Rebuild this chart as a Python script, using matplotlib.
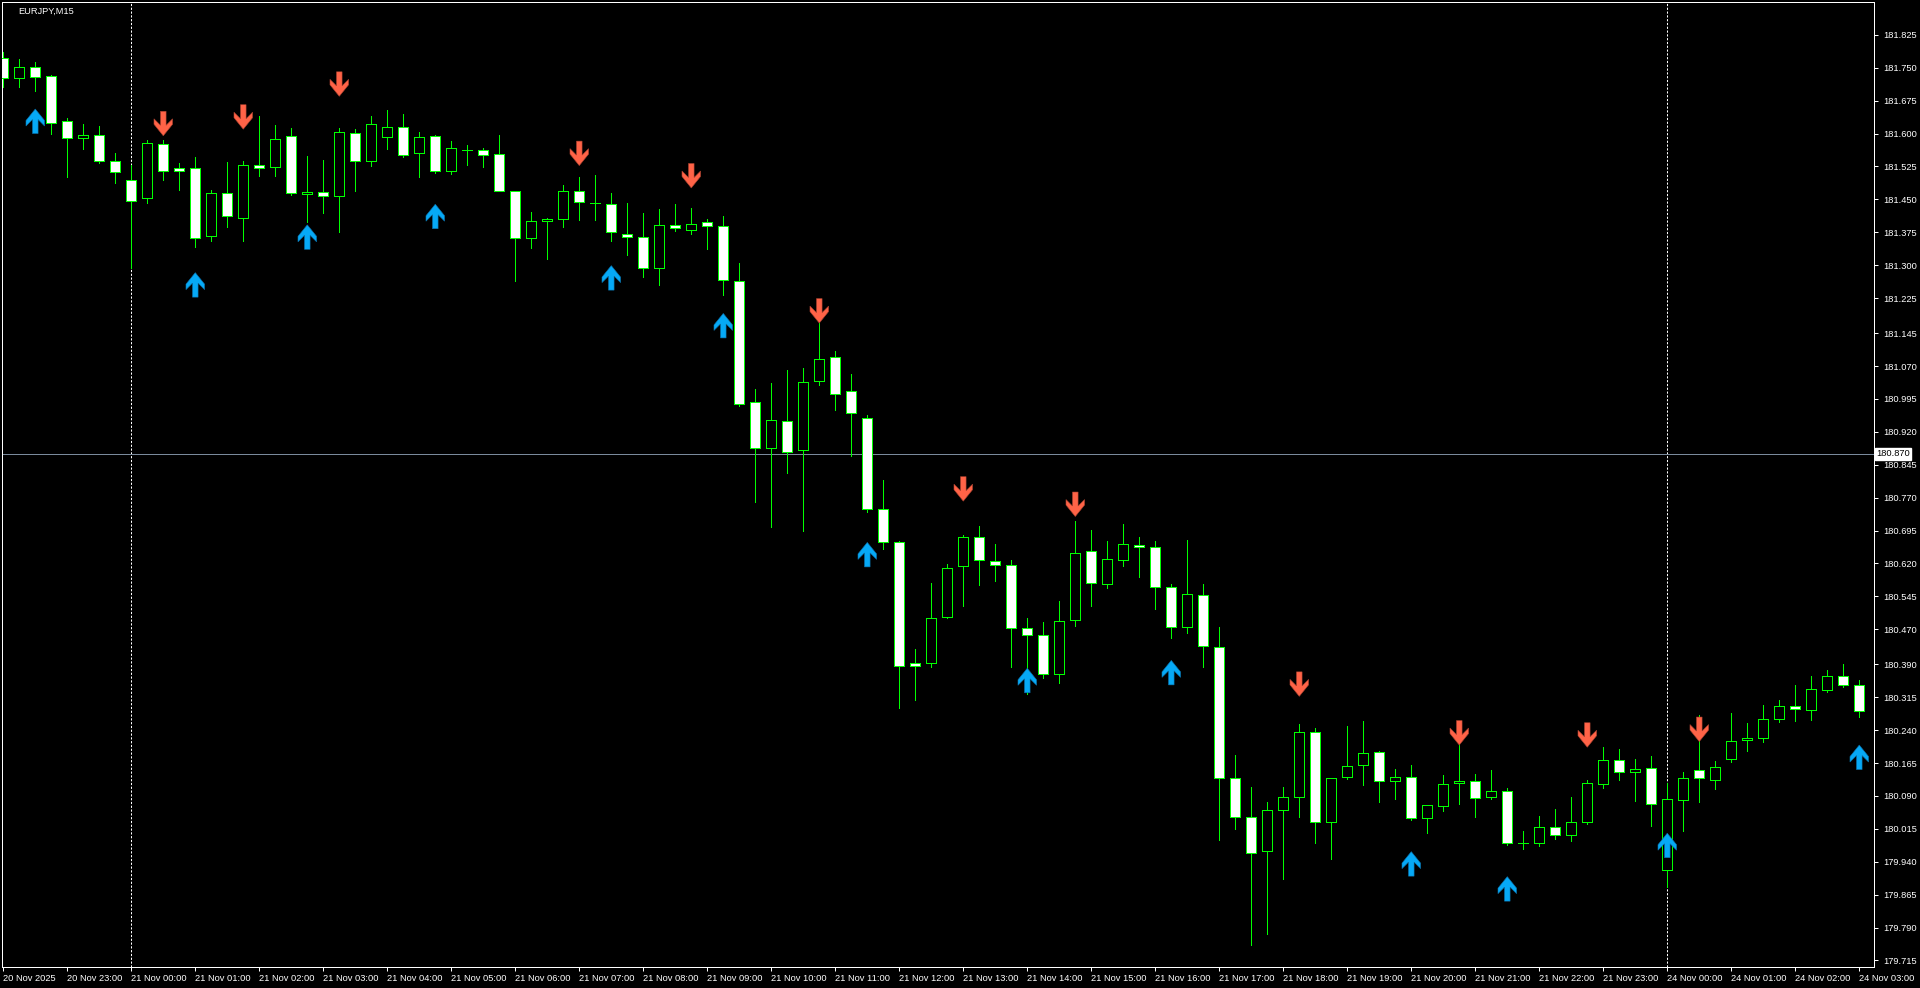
import matplotlib
matplotlib.use("Agg")
import matplotlib.pyplot as plt
from matplotlib.patches import Polygon
import numpy as np

# ---------------- data (EURJPY M15) ----------------
bar_index = list(range(-8, 109))  # bar slots; 21 Nov 00:00 = 0

opens = [181.772, 181.726, 181.752, 181.731, 181.628, 181.590, 181.597, 181.537,
         181.494, 181.454, 181.576, 181.521, 181.521, 181.366, 181.464, 181.408,
         181.528, 181.523, 181.594, 181.462, 181.467, 181.457, 181.601, 181.537,
         181.592, 181.615, 181.556, 181.594, 181.514, 181.562, 181.562, 181.553,
         181.469, 181.361, 181.400, 181.405, 181.469, 181.441, 181.439, 181.371,
         181.364, 181.293, 181.391, 181.380, 181.398, 181.389, 181.265, 180.988,
         180.883, 180.944, 180.878, 181.036, 181.090, 181.013, 180.951, 180.744,
         180.670, 180.393, 180.393, 180.498, 180.614, 180.680, 180.625, 180.616,
         180.473, 180.457, 180.368, 180.491, 180.648, 180.573, 180.628, 180.662,
         180.657, 180.566, 180.475, 180.548, 180.429, 180.131, 180.042, 179.964,
         180.058, 180.087, 180.235, 180.030, 180.133, 180.160, 180.190, 180.124,
         180.133, 180.039, 180.067, 180.119, 180.124, 180.087, 180.101, 179.982,
         179.982, 180.019, 180.001, 180.030, 180.117, 180.172, 180.144, 180.153,
         179.921, 180.080, 180.149, 180.126, 180.174, 180.217, 180.222, 180.265,
         180.295, 180.286, 180.331, 180.363, 180.343]

highs = [181.787, 181.770, 181.764, 181.733, 181.635, 181.622, 181.617, 181.556,
         181.529, 181.586, 181.586, 181.533, 181.546, 181.472, 181.535, 181.537,
         181.639, 181.620, 181.613, 181.549, 181.540, 181.613, 181.611, 181.640,
         181.654, 181.645, 181.604, 181.597, 181.583, 181.574, 181.568, 181.597,
         181.470, 181.422, 181.407, 181.483, 181.501, 181.505, 181.464, 181.441,
         181.419, 181.428, 181.439, 181.430, 181.405, 181.412, 181.305, 181.017,
         181.031, 181.061, 181.065, 181.168, 181.105, 181.052, 180.959, 180.811,
         180.671, 180.425, 180.575, 180.619, 180.685, 180.706, 180.664, 180.628,
         180.496, 180.487, 180.535, 180.717, 180.697, 180.672, 180.710, 180.681,
         180.672, 180.573, 180.674, 180.573, 180.475, 180.183, 180.111, 180.076,
         180.111, 180.254, 180.245, 180.132, 180.250, 180.261, 180.192, 180.151,
         180.160, 180.070, 180.137, 180.210, 180.140, 180.149, 180.108, 180.010,
         180.044, 180.060, 180.087, 180.126, 180.201, 180.197, 180.174, 180.181,
         180.120, 180.144, 180.274, 180.169, 180.279, 180.256, 180.297, 180.308,
         180.343, 180.363, 180.377, 180.390, 180.354]

lows = [181.706, 181.707, 181.696, 181.598, 181.500, 181.564, 181.533, 181.488,
        181.294, 181.442, 181.495, 181.472, 181.341, 181.355, 181.386, 181.356,
        181.504, 181.504, 181.459, 181.399, 181.419, 181.375, 181.470, 181.525,
        181.566, 181.546, 181.500, 181.510, 181.507, 181.529, 181.523, 181.468,
        181.263, 181.340, 181.315, 181.388, 181.404, 181.402, 181.355, 181.323,
        181.273, 181.255, 181.378, 181.371, 181.337, 181.231, 180.980, 180.759,
        180.704, 180.827, 180.695, 181.026, 180.969, 180.864, 180.738, 180.653,
        180.291, 180.309, 180.384, 180.496, 180.522, 180.570, 180.581, 180.383,
        180.322, 180.358, 180.348, 180.478, 180.522, 180.563, 180.615, 180.588,
        180.517, 180.449, 180.462, 180.383, 179.990, 180.015, 179.751, 179.776,
        179.900, 180.043, 179.982, 179.946, 180.128, 180.116, 180.077, 180.082,
        180.035, 180.006, 180.055, 180.071, 180.043, 180.083, 179.978, 179.969,
        179.975, 179.991, 179.987, 180.026, 180.108, 180.126, 180.078, 180.021,
        179.882, 180.010, 180.077, 180.105, 180.168, 180.193, 180.214, 180.258,
        180.260, 180.262, 180.327, 180.339, 180.270]

closes = [181.727, 181.752, 181.730, 181.624, 181.590, 181.597, 181.537, 181.512,
          181.447, 181.578, 181.514, 181.514, 181.361, 181.464, 181.411, 181.528,
          181.521, 181.587, 181.464, 181.467, 181.457, 181.603, 181.537, 181.622,
          181.615, 181.551, 181.592, 181.514, 181.567, 181.562, 181.551, 181.469,
          181.361, 181.400, 181.405, 181.469, 181.444, 181.441, 181.375, 181.364,
          181.293, 181.391, 181.385, 181.394, 181.389, 181.266, 180.983, 180.883,
          180.947, 180.874, 181.033, 181.086, 181.006, 180.963, 180.744, 180.669,
          180.386, 180.386, 180.495, 180.609, 180.680, 180.628, 180.616, 180.473,
          180.457, 180.368, 180.488, 180.644, 180.575, 180.630, 180.664, 180.657,
          180.566, 180.475, 180.550, 180.431, 180.132, 180.043, 179.960, 180.058,
          180.087, 180.235, 180.030, 180.131, 180.158, 180.188, 180.124, 180.133,
          180.039, 180.069, 180.117, 180.124, 180.085, 180.101, 179.982, 179.982,
          180.019, 180.001, 180.030, 180.119, 180.172, 180.144, 180.151, 180.071,
          180.083, 180.131, 180.131, 180.156, 180.215, 180.222, 180.265, 180.295,
          180.288, 180.333, 180.363, 180.343, 180.283]

# indicator arrows: bar slot and price of the arrow tip
buy_bars = [-6, 4, 11, 19, 30, 37, 46, 56, 65, 80, 86, 96, 108]
buy_tips = [181.656, 181.283, 181.392, 181.439, 181.299, 181.190, 180.668,
            180.381, 180.399, 179.963, 179.906, 180.005, 180.206]
sell_bars = [2, 7, 13, 28, 35, 43, 52, 59, 73, 83, 91, 98]
sell_tips = [181.595, 181.610, 181.685, 181.527, 181.476, 181.168, 180.762,
             180.727, 180.317, 180.206, 180.201, 180.214]

price_levels = [181.825, 181.750, 181.675, 181.600, 181.525, 181.450, 181.375,
                181.300, 181.225, 181.145, 181.070, 180.995, 180.920, 180.845,
                180.770, 180.695, 180.620, 180.545, 180.470, 180.390, 180.315,
                180.240, 180.165, 180.090, 180.015, 179.940, 179.865, 179.790,
                179.715]

time_ticks = list(range(-8, 109, 4))
time_labels = (["20 Nov 2025", "20 Nov 23:00"]
               + ["21 Nov %02d:00" % h for h in range(24)]
               + ["24 Nov %02d:00" % h for h in range(4)])

day_separators = [0, 96]
hline_price = 180.870
title = "EURJPY,M15"

# ---------------- figure ----------------
W, H = 1920, 988
fig = plt.figure(figsize=(W / 100, H / 100), dpi=100, facecolor="black")
L, R, T, B = 2, 1874, 2, 967
ax = fig.add_axes([L / W, (H - B) / H, (R - L) / W, (B - T) / H])
ax.set_facecolor("black")
ax.set_xlim(-8.08, 108.92)
ax.set_ylim(179.700, 181.900)

sx = (108.92 + 8.08) / (R - L)      # data units per pixel (x)
sy = (181.900 - 179.700) / (B - T)  # data units per pixel (y)

GREEN = "#00FF00"
px = 0.72  # one pixel in points

x = np.array(bar_index, dtype=float)
o = np.array(opens); h = np.array(highs); l = np.array(lows); c = np.array(closes)

ax.vlines(x, l, h, color=GREEN, lw=1.0 * px, zorder=3, antialiased=False)

bw = 10 * sx
for xi, oi, ci in zip(x, o, c):
    if abs(ci - oi) < 1e-9:
        ax.hlines(oi, xi - bw / 2, xi + bw / 2, color=GREEN, lw=1.0 * px, zorder=4,
                  antialiased=False)
        continue
    fc = "black" if ci > oi else "white"
    ax.add_patch(plt.Rectangle((xi - bw / 2, min(oi, ci)), bw, abs(ci - oi),
                               facecolor=fc, edgecolor=GREEN, lw=1.0 * px,
                               zorder=4, antialiased=False))

# arrows (pixel shape relative to tip; pointing up)
shape = [(0, 0), (9.3, 11.5), (9.3, 17), (2.8, 10.5), (2.8, 24.5),
         (-2.8, 24.5), (-2.8, 10.5), (-9.3, 17), (-9.3, 11.5)]
for bi, tp in zip(buy_bars, buy_tips):
    pts = [(bi + dx * sx, tp - dy * sy) for dx, dy in shape]
    ax.add_patch(Polygon(pts, closed=True, facecolor="#06A9F6",
                         edgecolor="#0A6FA8", lw=0.4, zorder=5))
for bi, tp in zip(sell_bars, sell_tips):
    pts = [(bi + dx * sx, tp + dy * sy) for dx, dy in shape]
    ax.add_patch(Polygon(pts, closed=True, facecolor="#FF6347",
                         edgecolor="#A8402E", lw=0.4, zorder=5))

# day separators
for d in day_separators:
    ax.axvline(d, color="white", lw=1.0 * px, ls=(0, (2.2, 1.6)), zorder=2)

# horizontal price line
ax.axhline(hline_price, color="#7A8A9C", lw=1.0 * px, zorder=2)

# spines
for s in ax.spines.values():
    s.set_color("white")
    s.set_linewidth(1.0 * px)

FONT = "Liberation Sans"
FS = 6.7
ax.yaxis.tick_right()
ax.set_yticks(price_levels)
ax.set_yticklabels(["%.3f" % v for v in price_levels])
ax.tick_params(axis="y", colors="white", direction="out", length=3,
               width=1.0 * px, pad=4, labelsize=FS)
ax.set_xticks(time_ticks)
ax.set_xticklabels(time_labels)
ax.tick_params(axis="x", colors="white", direction="out", length=3,
               width=1.0 * px, pad=2, labelsize=FS)
for lab in ax.get_xticklabels():
    lab.set_ha("left")
    lab.set_fontfamily(FONT)
for lab in ax.get_yticklabels():
    lab.set_fontfamily(FONT)

ax.text(1.0012, hline_price, "%.3f" % hline_price, transform=ax.get_yaxis_transform(),
        ha="left", va="center", fontsize=FS, family=FONT, color="black",
        bbox=dict(boxstyle="square,pad=0.15", facecolor="white", edgecolor="white"),
        clip_on=False, zorder=10)

fig.text(18 / W, 1 - 11 / H, title, color="white", fontsize=FS, family=FONT,
         ha="left", va="center")

fig.savefig("out.png", dpi=100, facecolor="black")
